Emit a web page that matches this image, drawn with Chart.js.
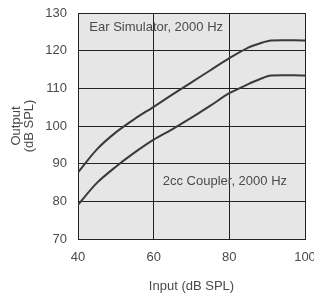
<!DOCTYPE html>
<html>
<head>
<meta charset="utf-8">
<script src="https://cdn.jsdelivr.net/npm/chart.js@4.4.1/dist/chart.umd.min.js"></script>
<style>
  html, body { margin: 0; padding: 0; background: #ffffff; }
  #wrap { width: 314px; height: 294px; }
</style>
</head>
<body>
<div id="wrap"><canvas id="outputChart" width="314" height="294"></canvas></div>
<script>
// Input levels (dB SPL) and measured output (dB SPL)
const inputLevels = [40, 45, 50, 55, 60, 65, 70, 75, 80, 85, 88, 91, 100];
const earSimulator = [87.7, 93.8, 98.3, 101.9, 105.1, 108.4, 111.6, 114.8, 118, 120.8, 121.9, 122.7, 122.7];
const coupler2cc = [79.1, 84.9, 89.2, 93, 96.4, 99.2, 102.2, 105.4, 108.7, 111.1, 112.4, 113.4, 113.4];

const xTicks = [40, 60, 80, 100];
const yTicks = [70, 80, 90, 100, 110, 120, 130];

// Curve labels, placed in data units
const curveLabels = [
    { text: 'Ear Simulator, 2000 Hz', x: 43, y: 126.1 },
    { text: '2cc Coupler, 2000 Hz', x: 62.4, y: 85.2 }
];

const textColor = '#4a4a4a';
const fontFamily = '"Liberation Sans", Arial, Helvetica, sans-serif';

function toPoints(values) {
    return inputLevels.map((x, i) => ({ x: x, y: values[i] }));
}

// Grey plot background + in-plot labels
const plotDecor = {
    id: 'plotDecor',
    beforeDraw(chart) {
        const { ctx, chartArea } = chart;
        ctx.save();
        ctx.fillStyle = '#e6e6e6';
        ctx.fillRect(chartArea.left, chartArea.top, chartArea.right - chartArea.left, chartArea.bottom - chartArea.top);
        ctx.restore();
    },
    afterDatasetsDraw(chart) {
        const { ctx, scales } = chart;
        ctx.save();
        ctx.fillStyle = textColor;
        ctx.font = '13px ' + fontFamily;
        ctx.textAlign = 'left';
        ctx.textBaseline = 'middle';
        curveLabels.forEach(l => {
            ctx.fillText(l.text, scales.x.getPixelForValue(l.x), scales.y.getPixelForValue(l.y));
        });
        ctx.restore();
    }
};

const lineStyle = {
    borderColor: '#3a3a3a',
    borderWidth: 2,
    pointRadius: 0,
    fill: false,
    tension: 0.3
};

new Chart(document.getElementById('outputChart').getContext('2d'), {
    type: 'line',
    data: {
        datasets: [
            Object.assign({ label: 'Ear Simulator, 2000 Hz', data: toPoints(earSimulator) }, lineStyle),
            Object.assign({ label: '2cc Coupler, 2000 Hz', data: toPoints(coupler2cc) }, lineStyle)
        ]
    },
    options: {
        responsive: false,
        animation: false,
        devicePixelRatio: 1,
        layout: { padding: { top: 13, right: 9, left: 0, bottom: 0 } },
        plugins: {
            legend: { display: false },
            tooltip: { enabled: false }
        },
        scales: {
            x: {
                type: 'linear',
                min: 40,
                max: 100,
                afterBuildTicks: s => { s.ticks = xTicks.map(v => ({ value: v })); },
                afterFit: s => { s.height = 55; s.paddingLeft = 0; s.paddingRight = 0; },
                ticks: {
                    color: textColor,
                    font: { family: fontFamily, size: 13 },
                    padding: 11,
                    maxRotation: 0
                },
                grid: { color: '#222222', lineWidth: 1, drawTicks: false },
                border: { color: '#222222', width: 1 },
                title: {
                    display: true,
                    text: 'Input (dB SPL)',
                    color: textColor,
                    font: { family: fontFamily, size: 13 },
                    padding: { top: 7, bottom: 0 }
                }
            },
            y: {
                type: 'linear',
                min: 70,
                max: 130,
                afterBuildTicks: s => { s.ticks = yTicks.map(v => ({ value: v })); },
                afterFit: s => { s.width = 78; s.paddingTop = 0; s.paddingBottom = 0; },
                ticks: {
                    color: textColor,
                    font: { family: fontFamily, size: 13 },
                    padding: 11
                },
                grid: { color: '#222222', lineWidth: 1, drawTicks: false },
                border: { color: '#222222', width: 1 },
                title: {
                    display: true,
                    text: ['Output', '(dB SPL)'],
                    color: textColor,
                    font: { family: fontFamily, size: 13, lineHeight: 1.0 },
                    padding: { top: 10, bottom: 0 }
                }
            }
        }
    },
    plugins: [plotDecor]
});
</script>
</body>
</html>
